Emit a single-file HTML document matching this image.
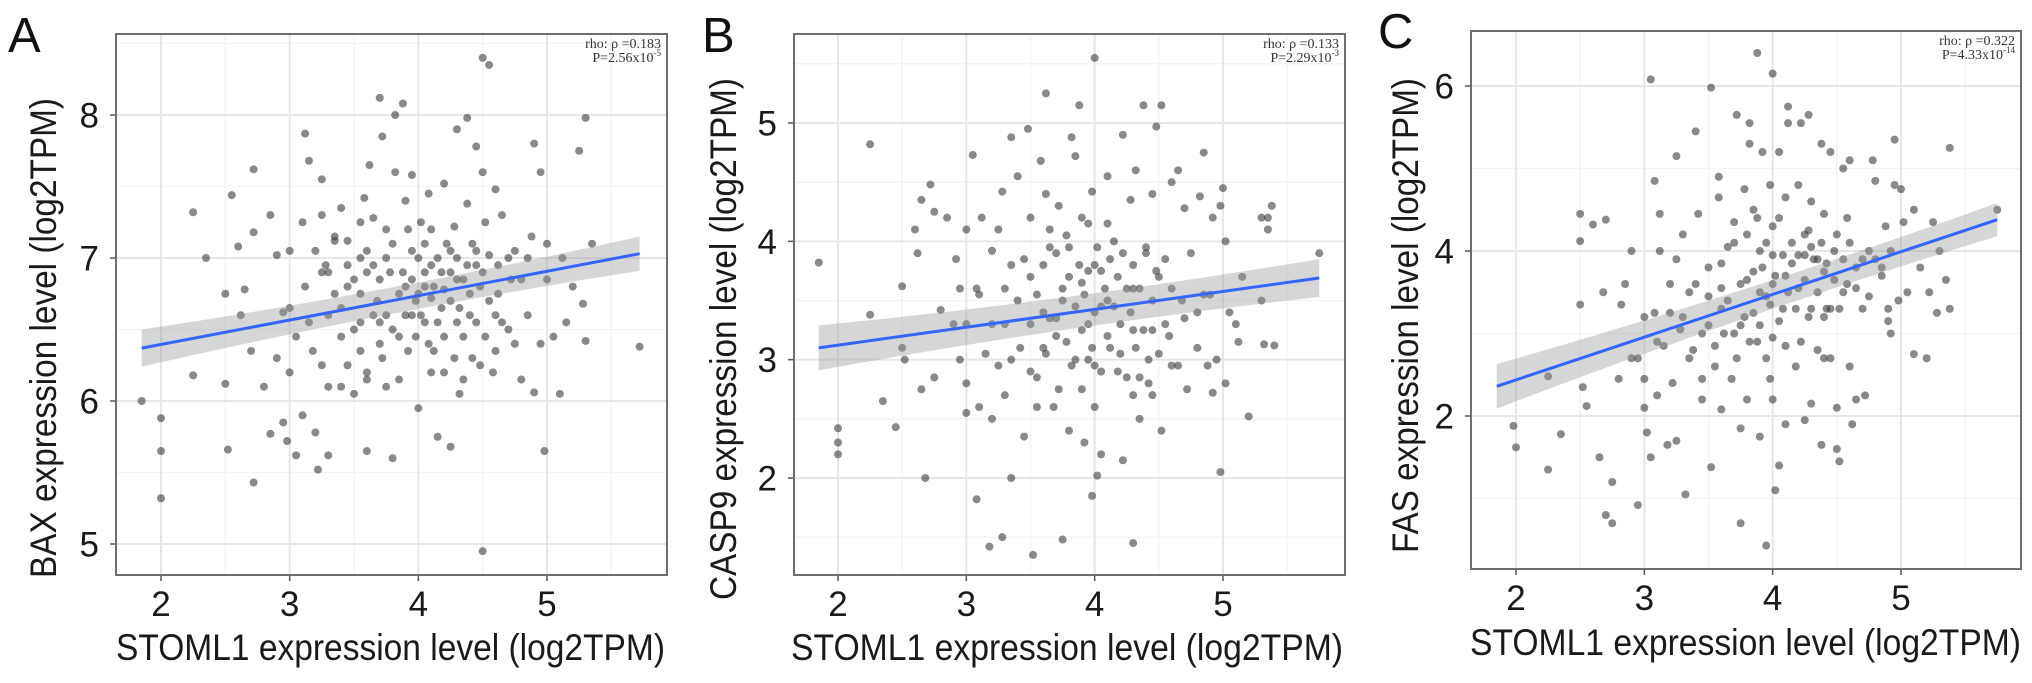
<!DOCTYPE html>
<html><head><meta charset="utf-8"><style>
html,body{margin:0;padding:0;background:#fff;}
svg{display:block;font-family:"Liberation Sans",sans-serif;}
</style></head><body>
<svg id="fig" width="2032" height="683" viewBox="0 0 2032 683" xmlns="http://www.w3.org/2000/svg"></svg>
<script>
// ---- Panel A data (STOML1 vs BAX) ----
const aX1=[1.85,2.0,2.0,2.0,2.25,2.35,2.25,2.5,2.5,2.52,2.55,2.6,2.62,2.65,2.7,2.72,2.72,2.72,2.85,2.8,2.85,2.9,2.95,2.95,2.98,3.0,3.0,3.05,3.05,3.1,3.12,3.15,3.12,3.18,3.2,3.22,3.25,3.25,3.28,3.3,3.3,3.3,3.35,3.35,3.4,3.4,3.45,3.45,3.5,3.5,3.55,3.55,3.58,3.6,3.6,3.62,3.65,3.65,3.68,3.7,3.7,3.72,3.75,3.78,3.8,3.8,3.82,3.82,3.85,3.88,3.9,3.9,3.92,3.95,3.95,3.98,4.0,4.02,4.05,4.05,4.08,4.1,4.12,4.15,4.15,4.18,4.2,4.2,4.25,4.25,4.28,4.3,4.3,4.32,4.35,4.38,4.38,4.4,4.42,4.45,4.45,4.48,4.5,4.5,4.5,4.52,4.55,4.55,4.58,4.6,4.62,4.65,4.7,4.72,4.75,4.8,4.85,4.88,4.9,4.9,4.95,4.95,4.98,5.0,5.0,5.05,5.1,5.12,5.15,5.2,5.25,5.28,5.3,5.3,5.35,5.72,4.0,4.1,3.6,4.3,3.85,4.2,3.4,3.7,4.45,3.95,4.25,3.55,4.6,3.25,4.05,3.75];
const aY1=[6.0,5.88,5.65,5.32,7.32,7.0,6.18,6.75,6.12,5.66,7.44,7.08,6.6,6.78,6.35,7.62,7.18,5.43,7.3,6.1,5.77,7.02,6.62,5.85,5.72,7.05,6.2,6.45,5.62,5.9,7.87,7.68,6.8,6.35,5.78,5.52,7.55,7.3,6.95,6.6,6.1,5.62,7.12,6.75,6.45,7.35,7.12,6.25,6.85,6.05,7.0,6.55,7.42,6.2,5.65,7.65,7.28,6.95,6.7,6.4,8.12,7.85,7.2,6.9,6.5,5.6,8.0,7.6,6.15,8.08,7.4,6.8,6.35,7.58,7.05,6.7,5.95,7.25,6.8,6.55,7.45,6.95,6.35,7.0,5.75,6.65,7.52,6.2,6.9,5.68,7.22,6.55,7.9,6.05,6.85,7.38,7.98,6.6,6.3,7.05,7.78,6.8,8.4,7.6,4.95,6.45,8.35,7.02,6.2,7.48,6.75,7.3,6.5,6.85,7.05,6.15,6.6,7.15,6.06,7.8,7.6,6.4,5.65,6.85,7.1,6.45,6.05,7.0,6.55,6.8,7.75,6.68,7.98,6.42,7.1,6.38,6.75,6.72,6.9,6.85,6.75,6.78,6.65,6.55,6.95,6.6,7.05,6.35,6.6,6.9,7.1,7.0];
const aX2=[3.3,3.35,3.45,3.5,3.55,3.6,3.65,3.7,3.72,3.75,3.8,3.85,3.88,3.9,3.92,3.95,3.98,4.0,4.02,4.05,4.08,4.1,4.12,4.15,4.18,4.2,4.22,4.25,4.28,4.3,4.32,4.35,4.38,4.4,4.42,4.45,4.48,4.5,4.52,4.55,4.6,4.62,4.65,4.7,4.75,3.15,3.2,3.25,3.4,3.45,3.0,2.9,3.1,4.8,4.85,3.6,3.75,4.1,4.35,3.55];
const aY2=[6.9,7.15,6.8,6.5,6.75,7.05,6.6,6.85,6.3,6.6,7.1,6.45,6.9,6.6,7.2,6.85,6.45,7.0,6.6,6.9,6.4,7.2,6.8,6.55,6.9,6.45,7.1,6.7,6.3,7.0,6.65,6.45,6.95,6.75,7.1,6.55,6.25,6.9,7.25,6.7,6.35,6.95,6.55,7.0,6.4,6.55,7.05,6.25,6.1,6.95,6.65,6.3,7.25,6.85,7.0,6.15,6.1,6.2,6.15,7.25];
const aX=aX1.concat(aX2);const aY=aY1.concat(aY2);
const aFitX=[1.85,5.72];const aFitY=[6.37,7.03];const aBand=[0.13,0.03,0.12];
const aYTicks=[5,6,7,8];const aXTicks=[2,3,4,5];
// ---- Panel B data (STOML1 vs CASP9) ----
const bX1=[1.85,2.0,2.0,2.0,2.25,2.25,2.35,2.45,2.5,2.5,2.52,2.6,2.62,2.65,2.68,2.65,2.72,2.75,2.75,2.8,2.85,2.9,2.92,2.95,3.0,3.0,3.0,3.05,3.08,3.08,3.1,3.12,3.15,3.18,3.2,3.2,3.25,3.28,3.28,3.3,3.3,3.35,3.35,3.35,3.4,3.42,3.45,3.48,3.5,3.5,3.52,3.55,3.58,3.6,3.62,3.62,3.65,3.68,3.7,3.72,3.75,3.75,3.78,3.8,3.82,3.85,3.85,3.88,3.9,3.92,3.95,3.95,3.98,3.98,4.0,4.0,4.0,4.02,4.05,4.05,4.1,4.12,4.15,4.18,4.22,4.22,4.25,4.28,4.3,4.3,4.32,4.35,4.38,4.4,4.42,4.45,4.45,4.48,4.5,4.52,4.52,4.55,4.6,4.6,4.65,4.68,4.7,4.72,4.75,4.8,4.82,4.85,4.88,4.9,4.92,4.92,4.95,4.98,4.98,5.0,5.02,5.02,5.05,5.1,5.12,5.15,5.2,5.3,5.3,5.32,5.35,5.38,5.35,5.4,5.75,3.9,4.1,3.7,4.3,3.95,4.2,3.6,4.45,3.8,4.05,3.5,4.35];
const bY1=[3.82,2.42,2.3,2.2,4.82,3.38,2.65,2.43,3.62,3.1,3.0,4.1,3.9,4.35,2.0,2.75,4.48,4.25,2.85,3.42,4.2,3.3,3.85,3.0,4.1,2.55,2.8,4.73,3.6,1.82,2.6,4.2,3.05,1.42,3.92,2.5,4.1,4.42,1.5,3.3,2.7,4.88,3.8,2.0,4.55,3.1,2.35,4.95,4.2,3.7,1.35,2.85,4.68,3.4,5.25,4.4,3.95,2.6,3.2,4.3,3.5,1.48,4.05,2.4,4.88,4.72,3.0,5.15,3.65,2.3,4.15,3.3,4.42,1.85,5.55,3.8,2.6,2.02,3.45,2.2,4.55,3.1,4.0,2.9,4.9,2.15,3.6,4.35,3.25,1.45,4.6,2.5,5.15,3.9,3.0,4.4,2.7,4.97,3.7,5.15,2.4,3.3,4.5,2.95,4.6,3.5,4.28,2.75,3.9,3.4,4.38,4.75,2.95,3.55,4.2,2.72,3.0,4.3,2.05,4.45,4.0,2.8,3.4,3.3,3.15,3.7,2.52,4.2,3.5,3.13,4.1,4.3,4.2,3.12,3.9,3.25,3.5,3.35,3.6,3.0,3.3,3.1,3.25,3.7,3.75,3.3,2.85];
const bX2=[3.3,3.35,3.4,3.45,3.5,3.55,3.6,3.62,3.65,3.7,3.72,3.75,3.78,3.8,3.82,3.85,3.88,3.9,3.92,3.95,3.98,4.0,4.02,4.05,4.08,4.1,4.12,4.15,4.18,4.2,4.22,4.25,4.28,4.3,4.32,4.35,4.38,4.4,4.42,4.45,4.48,4.5,4.55,4.58,4.6,4.65,4.7,3.2,3.1,3.0,3.25,2.95,4.8,4.85,3.65,4.1,3.9,4.3,3.55,4.0];
const bY2=[3.6,3.0,3.5,3.85,2.9,3.55,3.8,3.05,3.35,3.9,2.75,3.6,3.15,3.95,2.95,3.45,3.8,2.75,3.55,3.75,3.1,3.4,3.95,2.9,3.6,3.2,3.85,3.45,3.7,3.05,3.9,2.85,3.4,3.8,3.1,3.6,3.25,3.95,2.8,3.5,3.75,3.05,3.85,3.2,3.6,2.95,3.35,3.3,3.55,3.3,2.95,3.6,3.1,3.55,4.1,4.15,4.2,2.7,2.6,2.95];
const bX=bX1.concat(bX2);const bY=bY1.concat(bY2);
const bFitX=[1.85,5.75];const bFitY=[3.1,3.69];const bBand=[0.19,0.05,0.16];
const bYTicks=[2,3,4,5];const bXTicks=[2,3,4,5];
// ---- Panel C data (STOML1 vs FAS) ----
const cX1=[1.98,2.0,2.25,2.25,2.35,2.5,2.5,2.5,2.52,2.55,2.6,2.65,2.68,2.7,2.7,2.75,2.75,2.8,2.82,2.85,2.9,2.9,2.95,3.0,3.0,3.02,3.05,3.05,3.08,3.08,3.1,3.12,3.12,3.15,3.18,3.2,3.22,3.25,3.25,3.28,3.3,3.32,3.35,3.38,3.4,3.42,3.45,3.5,3.52,3.52,3.55,3.58,3.58,3.6,3.6,3.65,3.68,3.7,3.72,3.75,3.75,3.75,3.78,3.8,3.8,3.82,3.82,3.85,3.88,3.88,3.9,3.9,3.92,3.95,3.95,3.98,3.98,4.0,4.0,4.0,4.02,4.05,4.05,4.05,4.08,4.1,4.1,4.12,4.12,4.15,4.18,4.2,4.22,4.25,4.25,4.28,4.28,4.3,4.3,4.35,4.35,4.38,4.38,4.4,4.42,4.45,4.45,4.48,4.5,4.5,4.52,4.55,4.55,4.58,4.6,4.6,4.62,4.65,4.65,4.7,4.72,4.75,4.78,4.8,4.85,4.88,4.9,4.92,4.92,4.95,4.95,4.98,5.0,5.02,5.05,5.1,5.1,5.15,5.2,5.22,5.25,5.28,5.3,5.35,5.38,5.38,5.75,3.9,4.1,3.7,4.3,3.85,4.2,4.4,3.6,4.0,3.95,4.25,3.5];
const cY1=[1.88,1.62,1.35,2.48,1.78,4.45,4.12,3.35,2.35,2.12,4.32,1.5,3.5,4.38,0.8,1.2,0.7,2.45,3.35,3.6,4.0,2.7,0.92,2.45,2.1,1.8,6.08,1.5,4.85,3.25,2.25,4.0,4.45,2.85,1.65,3.25,2.4,5.15,1.7,3.05,4.2,1.05,3.5,2.8,5.45,4.45,2.45,3.8,5.98,1.38,2.85,4.9,4.65,3.3,2.08,4.05,2.45,4.35,5.65,3.1,1.85,0.7,4.75,3.65,2.2,5.55,5.3,4.5,6.4,2.9,4.0,1.75,5.2,3.45,0.43,4.8,2.45,6.15,3.95,2.95,1.1,5.2,4.4,1.4,3.3,4.65,1.9,5.75,5.55,3.85,2.6,4.8,5.55,4.2,1.95,5.65,3.2,4.6,2.15,3.9,2.8,5.3,1.65,4.45,3.3,2.7,5.2,4.0,2.1,1.6,1.45,3.5,5.0,4.4,2.6,5.1,1.9,3.8,2.2,3.3,2.25,4.0,5.1,4.85,3.7,4.3,3.15,4.0,3.0,4.8,5.35,3.4,4.75,4.35,3.5,4.5,2.75,3.8,2.7,3.5,4.35,3.25,4.0,3.65,5.25,3.3,4.5,3.5,3.7,3.0,4.05,3.25,3.55,3.75,3.55,3.6,4.1,3.95,3.1];
const cX2=[3.3,3.35,3.4,3.45,3.5,3.55,3.6,3.62,3.65,3.7,3.72,3.75,3.78,3.8,3.82,3.85,3.88,3.9,3.92,3.95,3.98,4.0,4.02,4.05,4.08,4.1,4.12,4.15,4.18,4.2,4.22,4.25,4.28,4.3,4.32,4.35,4.38,4.4,4.42,4.45,4.48,4.5,4.52,4.55,4.58,4.6,4.65,4.7,4.75,4.8,3.2,3.1,3.25,3.0,2.95,4.85,4.9,3.45,4.0,4.4];
const cY2=[3.2,2.7,3.6,3.0,3.45,2.6,3.85,3.0,3.4,4.1,2.7,3.6,3.2,4.2,2.9,3.75,4.4,3.1,3.8,2.7,3.35,4.3,3.7,3.15,3.95,2.85,3.5,4.1,3.3,3.95,2.9,3.65,4.25,3.3,3.9,3.5,4.1,3.2,3.85,3.3,3.65,4.2,3.3,3.9,3.6,4.1,3.55,3.9,3.45,3.9,3.6,2.9,3.9,3.2,2.7,3.8,3.3,2.2,2.2,2.7];
const cX=cX1.concat(cX2);const cY=cY1.concat(cY2);
const cFitX=[1.85,5.75];const cFitY=[2.36,4.38];const cBand=[0.27,0.06,0.2];
const cYTicks=[2,4,6];const cXTicks=[2,3,4,5];

const NS="http://www.w3.org/2000/svg";
const svg=document.getElementById('fig');
function mk(tag,attrs,parent){const e=document.createElementNS(NS,tag);for(const k in attrs)e.setAttribute(k,attrs[k]);(parent||svg).appendChild(e);return e;}

function panel(p){
  const g=mk('g',{});
  
  
  const sx=v=>p.px0+(v-p.xv0)*(p.px1-p.px0)/(p.xv1-p.xv0);
  const sy=v=>p.py0+(v-p.yv0)*(p.py1-p.py0)/(p.yv1-p.yv0);
  const L=p.box[0],T=p.box[1],R=p.box[2],B=p.box[3];
  const clipId='clip'+p.letter;
  const cp=mk('clipPath',{id:clipId},g);mk('rect',{x:L,y:T,width:R-L,height:B-T},cp);
  const xStep=p.xTicks[1]-p.xTicks[0], yStep=p.yTicks[1]-p.yTicks[0];
  for(let v=p.xTicks[0]-xStep/2;v<=p.xTicks[p.xTicks.length-1]+xStep;v+=xStep){const x=sx(v);if(x>L&&x<R){const l=mk('line',{x1:x,x2:x,y1:T,y2:B,stroke:'#f3f3f3','stroke-width':1.3},g);}}
  for(let v=p.yTicks[0]-yStep/2;v<=p.yTicks[p.yTicks.length-1]+yStep;v+=yStep){const y=sy(v);if(y>T&&y<B){const l=mk('line',{x1:L,x2:R,y1:y,y2:y,stroke:'#f3f3f3','stroke-width':1.3},g);}}
  p.xTicks.forEach(v=>{const x=sx(v);
    const l=mk('line',{x1:x,x2:x,y1:T,y2:B,stroke:'#e6e6e6','stroke-width':2},g);
    mk('line',{x1:x,x2:x,y1:B,y2:B+6,stroke:'#555','stroke-width':1.5},g);
    const t=mk('text',{x:x,y:B+41,'text-anchor':'middle','font-size':35,fill:'#1a1a1a'},g);t.textContent=v;
    });
  p.yTicks.forEach(v=>{const y=sy(v);
    const l=mk('line',{x1:L,x2:R,y1:y,y2:y,stroke:'#e6e6e6','stroke-width':2},g);
    mk('line',{x1:L-6,x2:L,y1:y,y2:y,stroke:'#555','stroke-width':1.5},g);
    const t=mk('text',{x:L-17,y:y+12.5,'text-anchor':'end','font-size':35,fill:'#1a1a1a'},g);t.textContent=v;
    });
  const pg=mk('g',{'clip-path':'url(#'+clipId+')'},g);
  
  for(let i=0;i<p.xs.length;i++){const c=mk('circle',{cx:sx(p.xs[i]),cy:sy(p.ys[i]),r:4,fill:'#3a3a3a','fill-opacity':0.6},pg);
    }
  const fx=p.fitX, fy=p.fitY, bd=p.band;
  const xm=(fx[0]+fx[1])/2, ym=(fy[0]+fy[1])/2;
  const up=[[fx[0],fy[0]+bd[0]],[xm,ym+bd[1]],[fx[1],fy[1]+bd[2]]];
  const lo=[[fx[1],fy[1]-bd[2]],[xm,ym-bd[1]],[fx[0],fy[0]-bd[0]]];
  const d='M'+sx(up[0][0])+','+sy(up[0][1])+' Q'+sx(up[1][0])+','+sy(up[1][1]+bd[1])+' '+sx(up[2][0])+','+sy(up[2][1])+
          ' L'+sx(lo[0][0])+','+sy(lo[0][1])+' Q'+sx(lo[1][0])+','+sy(lo[1][1]-bd[1])+' '+sx(lo[2][0])+','+sy(lo[2][1])+'Z';
  const band=mk('path',{d:d,fill:'#999','fill-opacity':0.4},g);
  
  const fl=mk('line',{x1:sx(fx[0]),y1:sy(fy[0]),x2:sx(fx[1]),y2:sy(fy[1]),stroke:'#3366ff','stroke-width':3},g);
  
  const bx=mk('rect',{x:L,y:T,width:R-L,height:B-T,fill:'none',stroke:'#6e6e6e','stroke-width':2},g);
  
  const a1=mk('text',{x:R-6,y:T+14,'text-anchor':'end','font-size':14,fill:'#333','font-family':'Liberation Serif, serif'},g);
  a1.textContent='rho: \u03c1 ='+p.rho;
  const a2=mk('text',{x:R-6,y:T+28,'text-anchor':'end','font-size':14,fill:'#333','font-family':'Liberation Serif, serif'},g);
  
  const s1=mk('tspan',{},a2);s1.textContent='P='+p.pm+'x10';
  const s2=mk('tspan',{dy:-6,'font-size':9},a2);s2.textContent=p.pe;
  const xt=mk('text',{x:(p.xt[0]+p.xt[1])/2,y:p.xt[2],'text-anchor':'middle','font-size':37,fill:'#1a1a1a',textLength:p.xt[1]-p.xt[0],lengthAdjust:'spacingAndGlyphs'},g);
  xt.textContent='STOML1 expression level (log2TPM)';
  const yc=(p.yt[0]+p.yt[1])/2;
  const yt=mk('text',{x:p.yt[2],y:yc,'text-anchor':'middle','font-size':37,fill:'#1a1a1a',textLength:p.yt[1]-p.yt[0],lengthAdjust:'spacingAndGlyphs',transform:'rotate(-90 '+p.yt[2]+' '+yc+')'},g);
  yt.textContent=p.ytitle;
  const lt=mk('text',{x:p.lab[0],y:p.lab[1],'font-size':49,fill:'#111'},g);
  lt.textContent=p.letter;
}
panel({name:'panel-a',letter:'A',box:[116,34,667,575],px0:161,px1:547,xv0:2,xv1:5,py0:115,py1:544,yv0:8,yv1:5,
  xs:aX,ys:aY,fitX:aFitX,fitY:aFitY,band:aBand,xTicks:aXTicks,yTicks:aYTicks,rho:'0.183',pm:'2.56',pe:'-5',
  xt:[116,665,660],yt:[98,578,56],ytitle:'BAX expression level (log2TPM)',lab:[8,52]});
panel({name:'panel-b',letter:'B',box:[794,34,1345,575],px0:838,px1:1223,xv0:2,xv1:5,py0:123,py1:478,yv0:5,yv1:2,
  xs:bX,ys:bY,fitX:bFitX,fitY:bFitY,band:bBand,xTicks:bXTicks,yTicks:bYTicks,rho:'0.133',pm:'2.29',pe:'-3',
  xt:[791,1343,660],yt:[78,600,736],ytitle:'CASP9 expression level (log2TPM)',lab:[702,52]});
panel({name:'panel-c',letter:'C',box:[1471,31,2021,569],px0:1516,px1:1901,xv0:2,xv1:5,py0:86,py1:416,yv0:6,yv1:2,
  xs:cX,ys:cY,fitX:cFitX,fitY:cFitY,band:cBand,xTicks:cXTicks,yTicks:cYTicks,rho:'0.322',pm:'4.33',pe:'-14',
  xt:[1470,2021,655],yt:[78,553,1418],ytitle:'FAS expression level (log2TPM)',lab:[1378,48]});
</script>
</body></html>
